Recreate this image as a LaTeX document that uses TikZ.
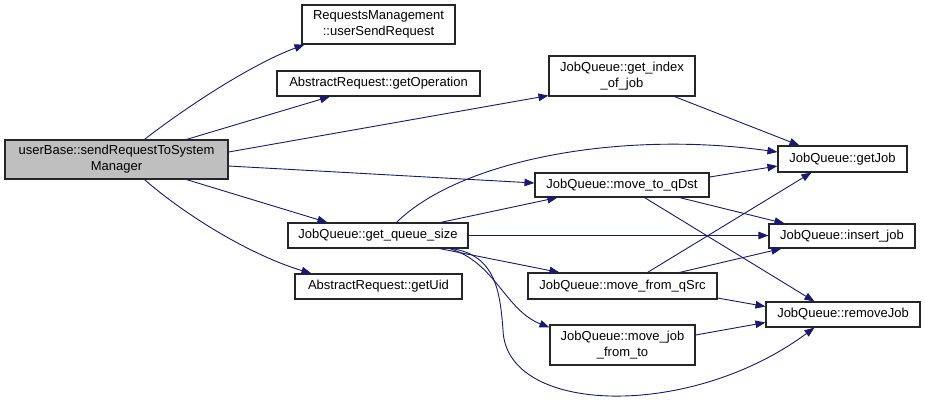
\documentclass[tikz,border=0pt]{standalone}
\usepackage{fontspec}
\setmainfont{Liberation Sans}
\usetikzlibrary{arrows.meta}
\definecolor{edgeblue}{HTML}{191970}
\definecolor{rootgray}{HTML}{BFBFBF}
\begin{document}
\begin{tikzpicture}[x=1pt,y=-1pt,
  box/.style={draw=black!85,line width=1.1pt,fill=white,inner sep=0pt,align=center,
    font=\fontsize{13}{16}\selectfont},
  call/.style={draw=edgeblue,line width=0.9pt,-{Triangle[length=10pt,width=7.5pt]},fill=none},
]
\useasboundingbox (0,0) rectangle (925,408);
% nodes
\node[box,fill=rootgray,minimum width=223pt,minimum height=39pt] (ub) at (116.5,159.5) {userBase::sendRequestToSystem\\Manager};
\node[box,minimum width=153pt,minimum height=39pt] (rm) at (378.5,24.5) {RequestsManagement\\::userSendRequest};
\node[box,minimum width=203pt,minimum height=25pt] (gop) at (378.5,83.5) {AbstractRequest::getOperation};
\node[box,minimum width=146pt,minimum height=40pt] (gij) at (622,76) {JobQueue::get\_index\\\_of\_job};
\node[box,minimum width=174pt,minimum height=24pt] (mtq) at (622,185) {JobQueue::move\_to\_qDst};
\node[box,minimum width=180pt,minimum height=25pt] (gqs) at (378,235.5) {JobQueue::get\_queue\_size};
\node[box,minimum width=167pt,minimum height=25pt] (uid) at (378.5,286.5) {AbstractRequest::getUid};
\node[box,minimum width=189pt,minimum height=26pt] (mfq) at (622.5,286) {JobQueue::move\_from\_qSrc};
\node[box,minimum width=145pt,minimum height=40pt] (mjft) at (622.5,345) {JobQueue::move\_job\\\_from\_to};
\node[box,minimum width=129pt,minimum height=26pt] (gj) at (842.5,159) {JobQueue::getJob};
\node[box,minimum width=146pt,minimum height=24pt] (ij) at (842,236) {JobQueue::insert\_job};
\node[box,minimum width=154pt,minimum height=25pt] (rj) at (843,314.5) {JobQueue::removeJob};
% edges from root
\begin{scope}[on background layer/.style={}]
\draw[call] ([xshift=140pt]ub.north west) .. controls (185,108) and (250,65) .. ([xshift=3pt]rm.south west);
\draw[call] ([xshift=182pt]ub.north west) -- ([xshift=-48.5pt]gop.south);
\draw[call] ([yshift=7.5pt]ub.east) -- ([yshift=1pt]gij.south west);
\draw[call] ([yshift=-6.5pt]ub.east) -- ([yshift=2pt]mtq.west);
\draw[call] ([xshift=182pt]ub.south west) -- ([xshift=40pt]gqs.north west);
\draw[call] ([xshift=140pt]ub.south west) .. controls (185,215) and (250,255) .. ([xshift=17pt]uid.north west);
% get_index_of_job
\draw[call] ([xshift=126pt]gij.south west) -- ([xshift=22pt]gj.north west);
% get_queue_size
\draw[call] ([xshift=109pt]gqs.north west) .. controls (460,160) and (620,130) .. ([yshift=7pt]gj.west);
\draw[call] ([xshift=153pt]gqs.north west) -- ([xshift=23pt]mtq.south west);
\draw[call] (gqs.east) -- (gqs.east -| ij.west);
\draw[call] ([xshift=152pt]gqs.south west) -- ([xshift=32pt]mfq.north west);
\draw[call] ([xshift=162pt]gqs.south west) .. controls (495,262) and (505,310) .. ([yshift=-3pt]mjft.north west);
\draw[call] ([xshift=164pt]gqs.south west) .. controls (495,255) and (500,290) .. (503,330)
   .. controls (506,415) and (690,420) .. ([xshift=49pt]rj.south west);
% move_to_qDst
\draw[call] ([yshift=8pt]mtq.east) -- ([yshift=-7pt]gj.west);
\draw[call] ([xshift=145pt]mtq.south west) -- ([xshift=16pt]ij.north west);
\draw[call] ([xshift=110pt]mtq.south west) -- ([xshift=49pt]rj.north west);
% move_from_qSrc
\draw[call] ([xshift=120pt]mfq.north west) -- ([xshift=34pt]gj.south west);
\draw[call] ([xshift=152pt]mfq.north west) -- ([xshift=13pt]ij.south west);
\draw[call] ([yshift=-12pt]mfq.east) -- ([yshift=8pt]rj.west);
% move_job_from_to
\draw[call] ([yshift=10pt]mjft.east) -- ([yshift=-8pt]rj.west);
\end{scope}
\end{tikzpicture}
\end{document}
